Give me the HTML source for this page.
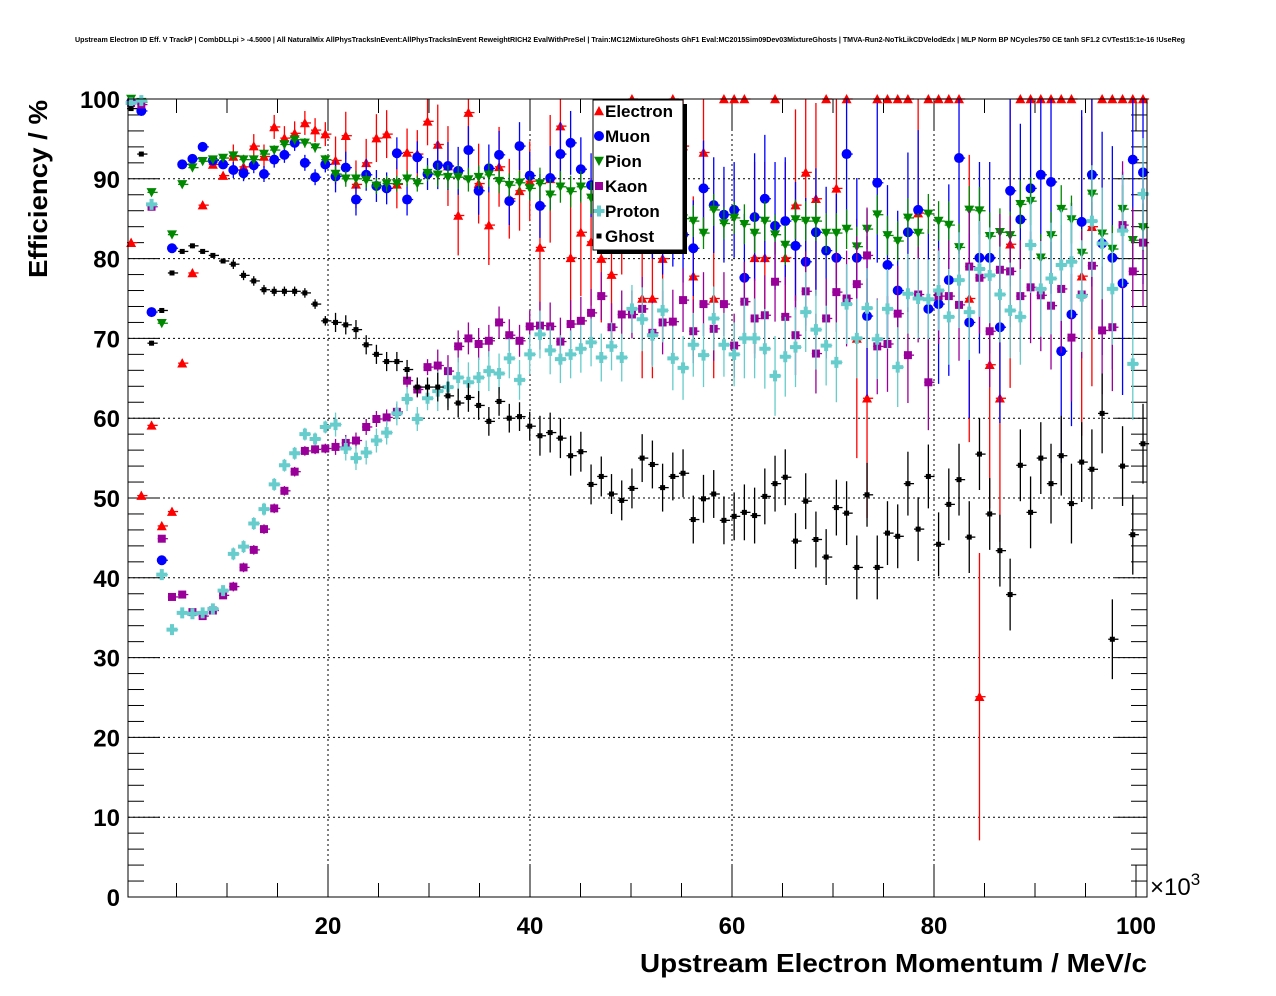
<!DOCTYPE html>
<html><head><meta charset="utf-8"><style>
html,body{margin:0;padding:0;background:#fff;}
svg{display:block;font-family:"Liberation Sans",Arial,sans-serif;}
</style></head><body>
<svg id="chart" width="1276" height="996" viewBox="0 0 1276 996" xmlns="http://www.w3.org/2000/svg">
<rect x="0" y="0" width="1276" height="996" fill="#fff"/>
<text x="75" y="42" font-size="7.2" font-weight="bold" textLength="1110" lengthAdjust="spacingAndGlyphs">Upstream Electron ID Eff. V TrackP | CombDLLpi &gt; -4.5000 | All NaturalMix AllPhysTracksInEvent:AllPhysTracksInEvent ReweightRICH2 EvalWithPreSel | Train:MC12MixtureGhosts GhF1 Eval:MC2015Sim09Dev03MixtureGhosts | TMVA-Run2-NoTkLikCDVelodEdx | MLP Norm BP NCycles750 CE tanh SF1.2 CVTest15:1e-16 !UseReg</text>
<g id="grid"></g>
<g id="axes"></g>
<g id="series"></g>
<rect x="128" y="99" width="1019" height="798" fill="none" stroke="#000" stroke-width="1"/>
<g>
<rect x="597" y="104" width="90" height="150" fill="#000"/>
<rect x="593" y="100" width="90" height="150" fill="#fff" stroke="#000" stroke-width="1"/>
<g id="legendItems"></g>
</g>
<text x="0" y="0" transform="translate(47,189) rotate(-90)" text-anchor="middle" font-size="26" font-weight="bold" textLength="178" lengthAdjust="spacingAndGlyphs">Efficiency / %</text>
<text x="640" y="972" font-size="26" font-weight="bold" textLength="507" lengthAdjust="spacingAndGlyphs">Upstream Electron Momentum / MeV/c</text>
<text x="1150" y="895" font-size="24">×10<tspan dy="-10" font-size="17">3</tspan></text>
</svg>
<script>
const xTicks = [20, 40, 60, 80, 100];
const yTicks = [0, 10, 20, 30, 40, 50, 60, 70, 80, 90, 100];
const binLow = 0;
const binWidth = 1.012;
const seriesNames = ["Electron", "Muon", "Pion", "Kaon", "Proton", "Ghost"];
const electron = [82.0,50.3,59.1,46.5,48.3,66.9,78.2,86.7,91.8,90.4,92.8,91.5,94.1,92.8,96.5,95.1,95.7,97.0,96.1,95.6,92.3,95.4,89.3,92.0,95.1,95.6,89.3,93.3,93.1,97.2,94.3,91.6,85.4,98.3,89.4,84.2,91.5,87.5,88.5,89.7,81.4,90,96.6,80.1,83.3,82.1,80,78,86,100,75,75,80,100,94.1,77.8,93.3,75.0,100,100,100,80.1,80.1,100,80.1,86.7,90.8,87.5,100,88.8,100,70.0,62.5,100,100,100,100,85.7,100,100,100,100,75.0,25.1,66.7,62.5,81.8,100,100,100,100,100,100,77.8,84,100,100,100,100,100];
const muon = [99.6,98.5,73.3,42.2,81.3,91.8,92.5,94.0,92.3,91.8,91.1,90.7,91.7,90.6,92.4,93.0,94.5,92.0,90.2,91.8,90.3,91.4,87.4,90.5,89.1,88.8,93.2,87.4,92.7,90.6,91.7,91.6,91.0,93.6,88.5,91.3,93.0,87.2,94.1,90.4,86.6,90.1,93.1,94.5,91.2,89.2,88,86,87,85,88,86,84,85,83,81.3,88.8,86.7,85.5,86.1,77.6,85.2,87.5,84.1,84.7,81.6,79.6,83.3,81.0,80.1,93.1,80.1,72.8,89.5,79.2,76.0,83.3,86.1,73.7,74.3,77.3,92.6,72.0,80.1,80.1,71.4,88.5,84.9,88.8,90.5,89.6,68.4,73.0,84.6,90.5,81.9,80.1,76.9,92.4,90.8];
const pion = [100,99.6,88.3,71.9,83.0,89.3,91.4,92.2,92.4,92.6,92.9,92.4,92.4,93.1,93.6,94.3,94.9,94.5,93.9,92.4,90.6,90.0,90.0,89.8,89.1,89.4,89.4,90.0,89.4,90.7,90.5,90.2,90.2,89.9,90.2,90.5,89.7,89.2,89.5,88.8,89.4,88.0,89.0,88.4,89.0,87.6,87.5,87,87,86.5,86,86,85.5,85.5,85,84.7,83.2,86.1,84.4,85.1,84.3,83.2,84.7,83.0,81.7,84.9,84.7,84.7,83.2,83.2,83.7,81.5,83.7,85.5,82.9,82.2,85.1,83.2,85.6,84.7,84.2,81.4,86.1,86.0,82.8,83.3,82.9,86.8,87.2,80.1,82.9,86.2,84.9,80.7,88.1,83.1,81.2,86.2,82.3,83.9];
const kaon = [99.5,99.3,86.5,44.9,37.6,37.9,35.7,35.2,35.9,37.8,38.9,41.3,43.5,46.1,48.7,50.9,53.3,55.9,56.1,56.2,56.4,56.9,57.2,58.9,59.9,60.1,60.8,64.7,63.6,66.4,66.6,65.9,69.0,70.0,69.3,69.7,72.0,70.4,69.7,71.5,71.6,71.5,69.6,71.8,72.2,73.2,75.3,71.4,73.0,73.0,73.7,70.7,72.0,72.1,74.8,70.9,74.3,71.2,74.3,69.1,74.6,72.5,72.9,77.1,72.7,70.4,75.9,68.1,72.5,75.8,75.0,76.8,80.4,69.0,69.3,73.1,67.9,75.5,64.5,75.3,75.3,74.2,79.0,77.6,70.9,78.6,78.4,75.3,76.4,75.4,74.1,76.2,70.1,75.5,79.1,71.0,71.4,84.2,78.4,82.0];
const proton = [99.5,99.8,86.8,40.4,33.5,35.6,35.5,35.6,36.1,38.4,43.0,43.9,46.8,48.6,51.7,54.1,55.6,58.0,57.4,58.9,59.2,56.2,55.0,55.7,57.2,58.2,60.6,62.4,59.9,62.5,63.4,63.9,65.1,64.5,65.1,65.9,65.6,67.5,64.8,68.0,70.5,68.5,67.4,68.0,68.7,69.5,67.6,69.0,67.6,73.7,72.4,70.4,73.5,67.5,66.3,69.2,67.9,72.5,69.2,68.0,70,70,68.7,65.3,67.7,68.9,73.3,71.1,69.1,67.0,74.3,70.0,73.8,69.9,73.7,66.4,75.6,75,74.9,76.0,72.7,77.3,73.3,78.7,77.9,75.5,73.5,72.7,81.7,76.2,77.5,79.2,79.6,75.3,84.7,81.9,76.2,83.5,66.8,88.1];
const ghost = [98.8,93.1,69.4,73.5,78.2,80.9,81.6,80.9,80.4,79.7,79.3,77.9,77.2,76.1,75.9,75.9,75.9,75.7,74.3,72.2,72.0,71.7,71.1,69.2,68.0,67.1,67.1,66.1,63.9,63.9,63.9,62.8,61.9,62.6,61.6,59.6,62.1,60.0,60.2,59.0,57.8,58.2,57.5,55.3,55.8,51.7,52.7,50.5,49.7,51.2,55.0,54.2,51.3,52.7,53.1,47.3,49.9,50.5,47.2,47.7,48.2,47.8,50.2,51.8,52.6,44.6,49.6,44.8,42.6,48.8,48.1,41.3,50.4,41.3,45.6,45.2,51.8,46.1,52.7,44.2,49.2,52.3,45.1,55.5,48.0,43.4,37.9,54.1,48.2,55.0,51.8,55.3,49.3,54.5,53.6,60.6,32.3,54.0,45.4,56.8];
const electronErr = [0.5,1.5,3,5,8,10,12,15,18,20];
const muonErr = [0.5,1,2,3,4,6,8,10,12,14];
const pionErr = [0.3,0.6,1,1.5,2,2,2.5,2.5,3,3];
const kaonErr = [0.3,0.6,1,2,3,4,5,6,7,8];
const protonErr = [0.4,0.8,1.5,2.5,3,4,5,5,6,7];
const ghostErr = [0.3,0.6,1.2,1.8,2.5,3,3.5,4,4.5,5];

const NS = "http://www.w3.org/2000/svg";
const X0 = 126, XS = 10.1, Y0 = 897, YS = 7.98;
function xPix(v){ return X0 + v*XS; }
function yPix(v){ return Y0 - v*YS; }
function mk(tag, attrs, parent){ const e=document.createElementNS(NS,tag); for(const k in attrs) e.setAttribute(k,attrs[k]); parent.appendChild(e); return e; }

const grid = document.getElementById('grid');
const axes = document.getElementById('axes');
xTicks.forEach(t=>{ if(t<100){ const l=mk('line',{x1:xPix(t),x2:xPix(t),y1:99,y2:897,stroke:'#000','stroke-width':1,'stroke-dasharray':'2,3'},grid);

 }});
yTicks.forEach(t=>{ if(t>0&&t<100){ const l=mk('line',{x1:128,x2:1147,y1:yPix(t),y2:yPix(t),stroke:'#000','stroke-width':1,'stroke-dasharray':'2,3'},grid);

 }});
for(let v=5; v<=101; v+=5){
  const major = xTicks.indexOf(v)>=0;
  const len = major?32:14;
  mk('line',{x1:xPix(v),x2:xPix(v),y1:897,y2:897-len,stroke:'#000','stroke-width':1},axes);
  mk('line',{x1:xPix(v),x2:xPix(v),y1:99,y2:99+len,stroke:'#000','stroke-width':1},axes);
}
xTicks.forEach(t=>{
  const tx=mk('text',{x:xPix(t),y:934,'text-anchor':'middle','font-size':24,'font-weight':'bold'},axes);
  tx.textContent=String(t);
  
  
});
for(let v=0; v<=100; v+=2){
  const major = v%10===0;
  const len = major?32:16;
  mk('line',{x1:128,x2:128+len,y1:yPix(v),y2:yPix(v),stroke:'#000','stroke-width':1},axes);
  mk('line',{x1:1147,x2:1147-len,y1:yPix(v),y2:yPix(v),stroke:'#000','stroke-width':1},axes);
}
yTicks.forEach(t=>{
  const tx=mk('text',{x:120,y:yPix(t)+9,'text-anchor':'end','font-size':24,'font-weight':'bold'},axes);
  tx.textContent=String(t);
  
  
});

const styles = [
  {vals:electron, errs:electronErr, color:'#ff0000', m:'tri'},
  {vals:muon, errs:muonErr, color:'#0000ff', m:'circ'},
  {vals:pion, errs:pionErr, color:'#008800', m:'tridown'},
  {vals:kaon, errs:kaonErr, color:'#990099', m:'sq'},
  {vals:proton, errs:protonErr, color:'#66cccc', m:'cross'},
  {vals:ghost, errs:ghostErr, color:'#000000', m:'dot'}
];
function marker(kind, cx, cy, color, parent){
  if(kind==='tri') return mk('polygon',{points:`${cx-5},${cy+4.3} ${cx+5},${cy+4.3} ${cx},${cy-5}`,fill:color},parent);
  if(kind==='tridown') return mk('polygon',{points:`${cx-5},${cy-4.3} ${cx+5},${cy-4.3} ${cx},${cy+5}`,fill:color},parent);
  if(kind==='circ') return mk('circle',{cx:cx,cy:cy,r:5,fill:color},parent);
  if(kind==='sq') return mk('rect',{x:cx-4,y:cy-4,width:8,height:8,fill:color},parent);
  if(kind==='cross') return mk('path',{d:`M${cx-5.5},${cy-2}h3.5v-3.5h4v3.5h3.5v4h-3.5v3.5h-4v-3.5h-3.5z`,fill:color},parent);
  return mk('rect',{x:cx-2.5,y:cy-2.5,width:5,height:5,fill:color},parent);
}
const sg = document.getElementById('series');
styles.forEach((s,si)=>{
  const g = mk('g',{},sg);
  
  
  s.vals.forEach((v,i)=>{
    if(v===null) return;
    const xc = binLow + (i+0.5)*binWidth;
    const px = xPix(xc), py = yPix(v);
    const e = s.errs[Math.min(9, Math.floor(i/10))];
    if(v<100){
      const lo = Math.max(0, v-e), hi = Math.min(100, v+e);
      mk('line',{x1:px,x2:px,y1:yPix(lo),y2:yPix(hi),stroke:s.color,'stroke-width':1.3},g);
    }
    mk('line',{x1:xPix(xc-binWidth/2)+1,x2:xPix(xc+binWidth/2)+1,y1:py,y2:py,stroke:s.color,'stroke-width':1.3},g);
    const m = marker(s.m, px, py, s.color, g);
    
    
  });
});
const lg = document.getElementById('legendItems');
seriesNames.forEach((n,i)=>{
  const y = 111 + i*25;
  const m = marker(styles[i].m, 599, y, styles[i].color, lg);
  
  
  const t = mk('text',{x:605,y:y+6,'font-size':17,'font-weight':'bold'},lg);
  t.textContent = n;
  
  
});
</script>
</body></html>
